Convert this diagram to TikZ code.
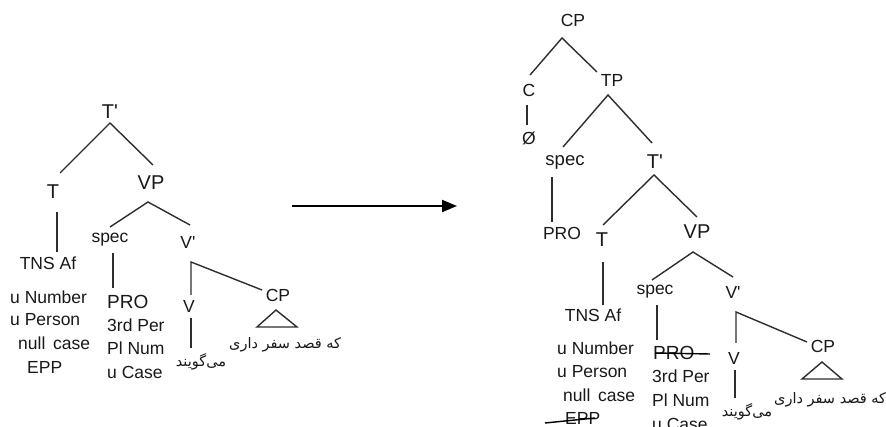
\documentclass[tikz,border=0pt]{standalone}
\usepackage{fontspec}
\setmainfont{Liberation Sans}
\newfontfamily\fafont[Script=Arabic]{DejaVu Sans}
\TeXXeTstate=1
\usetikzlibrary{arrows.meta}
\newcommand{\fa}[1]{{\fafont\beginR #1\endR}}
\begin{document}
\begin{tikzpicture}[x=1pt,y=-1pt,
  lbl/.style={font=\fontsize{17.5}{20}\selectfont, inner sep=0pt, text=black!90},
  big/.style={lbl, font=\fontsize{20}{22}\selectfont},
  feat/.style={lbl, anchor=west},
  fatext/.style={inner sep=0pt, text=black!90, font=\fontsize{14.5}{16}\selectfont},
  br/.style={draw=black!82, line width=1.4pt},
  strike/.style={draw=black, line width=1.4pt},
  bigarrow/.style={draw=black, line width=2pt, -{Triangle[length=15pt,width=12pt]}}]
\useasboundingbox (0,0) rectangle (886,427);
\clip (0,0) rectangle (886,427);
\fill[white] (0,0) rectangle (886,427);

% ---------------- left tree ----------------
\node[big] (lTb) at (110,112) {T\textquotesingle};
\node[big] (lT) at (53,192) {T};
\node[big] (lVP) at (151,183) {VP};
\node[lbl] (lTNS) at (48,263) {TNS Af};
\node[lbl] (lspec) at (110,240) {spec};
\node[lbl] (lVb) at (188,242) {V\textquotesingle};
\node[feat, font=\fontsize{19}{21}\selectfont] (lPRO) at (107,302) {PRO};
\node[feat] (l3rd) at (107,325) {3rd Per};
\node[feat] (lPl) at (107,348) {Pl Num};
\node[feat] (lCase) at (107,372) {u Case};
\node[feat] (lNum) at (10,297) {u Number};
\node[feat] (lPer) at (10,320) {u Person};
\node[feat] (lnull) at (18,343) {null\, case};
\node[feat] (lEPP) at (27,367) {EPP};
\node[lbl] (lV) at (189,306) {V};
\node[lbl] (lCP) at (278,295) {CP};
\node[fatext, anchor=west] (lCPt) at (229,345) {\fa{که قصد سفر داری}};
\node[fatext] (lVt) at (201,362) {\fa{می‌گویند}};

\coordinate (lTb-a) at (110,123);
\coordinate (lT-a) at (60,173);
\coordinate (lVP-a) at (153,165);
\draw[br] (lT-a) -- (lTb-a) -- (lVP-a);
\coordinate (lT-d1) at (57,212);
\coordinate (lT-d2) at (57,252);
\draw[br] (lT-d1) -- (lT-d2);
\coordinate (lVP-b) at (148,202);
\coordinate (lspec-a) at (110,227);
\coordinate (lVb-a) at (190,225);
\draw[br] (lspec-a) -- (lVP-b) -- (lVb-a);
\coordinate (lspec-d1) at (113,253);
\coordinate (lspec-d2) at (113,288);
\draw[br] (lspec-d1) -- (lspec-d2);
\coordinate (lVb-b) at (191,262);
\coordinate (lV-a) at (191,295);
\coordinate (lCP-a) at (262,290);
\draw[br] (lV-a) -- (lVb-b) -- (lCP-a);
\coordinate (lV-d1) at (191,318);
\coordinate (lV-d2) at (191,348);
\draw[br] (lV-d1) -- (lV-d2);
\coordinate (lTri-a) at (276,310);
\coordinate (lTri-l) at (257,327);
\coordinate (lTri-r) at (297,327);
\draw[br] (lTri-a) -- (lTri-l) -- (lTri-r) -- cycle;

% ---------------- arrow ----------------
\coordinate (arrS) at (292,206);
\coordinate (arrE) at (457,206);
\draw[bigarrow] (arrS) -- (arrE);

% ---------------- right tree ----------------
\node[lbl] (rCP) at (573,20) {CP};
\node[lbl] (rC) at (529,90) {C};
\node[lbl] (rTP) at (612,80) {TP};
\node[lbl] (rNull) at (529,138) {Ø};
\node[lbl, font=\fontsize{18.5}{20}\selectfont] (rspec) at (565,162) {spec};
\node[big] (rTb) at (655,162) {T\textquotesingle};
\node[lbl] (rPRO1) at (562,233) {PRO};
\node[big] (rT) at (602,240) {T};
\node[big] (rVP) at (697,232) {VP};
\node[lbl] (rTNS) at (593,315) {TNS Af};
\node[lbl] (rspec2) at (655,292) {spec};
\node[lbl] (rVb) at (733,292) {V\textquotesingle};
\node[feat, font=\fontsize{19}{21}\selectfont] (rPRO) at (653,353) {PRO};
\node[feat] (r3rd) at (652,376) {3rd Per};
\node[feat] (rPl) at (652,400) {Pl Num};
\node[feat] (rCase) at (652,424) {u Case};
\node[feat] (rNum) at (557,348) {u Number};
\node[feat] (rPer) at (557,372) {u Person};
\node[feat] (rnull) at (563,395) {null\, case};
\node[feat] (rEPP) at (565,418) {EPP};
\node[lbl] (rV) at (734,358) {V};
\node[lbl] (rCP2) at (823,346) {CP};
\node[fatext, anchor=west] (rCPt) at (774,400) {\fa{که قصد سفر داری}};
\node[fatext] (rVt) at (747,412) {\fa{می‌گویند}};

\coordinate (rCP-a) at (562,38);
\coordinate (rC-a) at (530,75);
\coordinate (rTP-a) at (597,72);
\draw[br] (rC-a) -- (rCP-a) -- (rTP-a);
\coordinate (rC-d1) at (527,105);
\coordinate (rC-d2) at (527,125);
\draw[br] (rC-d1) -- (rC-d2);
\coordinate (rTP-b) at (608,95);
\coordinate (rspec-a) at (563,147);
\coordinate (rTb-a) at (652,143);
\draw[br] (rspec-a) -- (rTP-b) -- (rTb-a);
\coordinate (rspec-d1) at (552,177);
\coordinate (rspec-d2) at (552,222);
\draw[br] (rspec-d1) -- (rspec-d2);
\coordinate (rTb-b) at (654,175);
\coordinate (rT-a) at (603,225);
\coordinate (rVP-a) at (697,217);
\draw[br] (rT-a) -- (rTb-b) -- (rVP-a);
\coordinate (rT-d1) at (603,262);
\coordinate (rT-d2) at (603,305);
\draw[br] (rT-d1) -- (rT-d2);
\coordinate (rVP-b) at (693,252);
\coordinate (rspec2-a) at (652,280);
\coordinate (rVb-a) at (733,277);
\draw[br] (rspec2-a) -- (rVP-b) -- (rVb-a);
\coordinate (rspec2-d1) at (657,305);
\coordinate (rspec2-d2) at (657,340);
\draw[br] (rspec2-d1) -- (rspec2-d2);
\coordinate (rVb-b) at (736,312);
\coordinate (rV-a) at (736,343);
\coordinate (rCP2-a) at (807,342);
\draw[br] (rV-a) -- (rVb-b) -- (rCP2-a);
\coordinate (rV-d1) at (735,370);
\coordinate (rV-d2) at (735,398);
\draw[br] (rV-d1) -- (rV-d2);
\coordinate (rTri-a) at (822,362);
\coordinate (rTri-l) at (802,379);
\coordinate (rTri-r) at (842,379);
\draw[br] (rTri-a) -- (rTri-l) -- (rTri-r) -- cycle;

% strike-throughs
\coordinate (sPRO1) at (655,353);
\coordinate (sPRO2) at (710,354);
\draw[strike] (sPRO1) -- (sPRO2);
\coordinate (sEPP1) at (545,423);
\coordinate (sEPP2) at (595,418);
\draw[strike] (sEPP1) -- (sEPP2);
\end{tikzpicture}
\end{document}
